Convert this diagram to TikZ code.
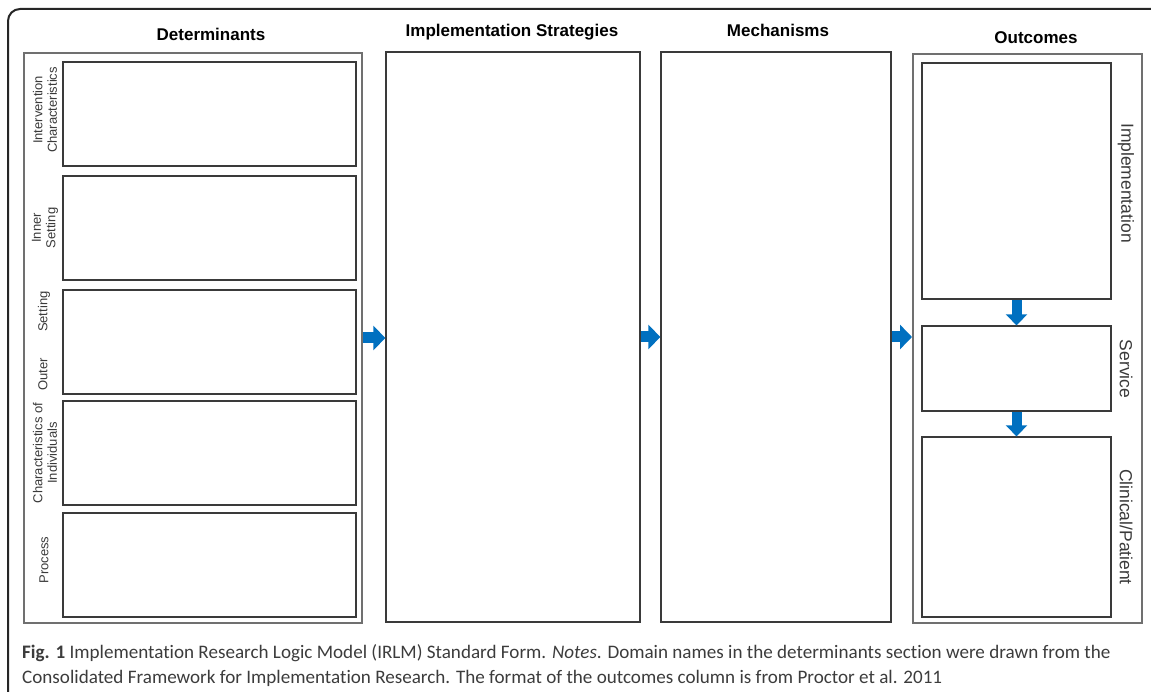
\documentclass[tikz,border=0pt]{standalone}
\usepackage{fontspec}
\setmainfont{Liberation Sans}
\newfontfamily\capfont[Ligatures={NoCommon}]{Carlito}
\usetikzlibrary{arrows.meta}
\definecolor{arrowblue}{HTML}{0070C0}
\definecolor{edgegray}{HTML}{707070}
\definecolor{edgedark}{HTML}{3A3A3A}
\definecolor{captext}{HTML}{3C3C3C}
\tikzset{
  outerbox/.style={draw=edgegray, line width=2pt, inner sep=0pt},
  innerbox/.style={draw=edgedark, line width=1.3pt, inner sep=0pt},
  coltitle/.style={font=\bfseries\fontsize{17}{20}\selectfont, text=black, anchor=base, inner sep=0pt},
  sidel/.style={rotate=90, align=center, font=\fontsize{13}{14.5}\selectfont, text=edgedark, inner sep=0pt},
  sider/.style={rotate=-90, font=\fontsize{17.5}{20}\selectfont, text=edgedark, inner sep=0pt},
  harrow/.style={draw=arrowblue, line width=11pt, -{Triangle[length=12pt,width=24pt]}},
  varrow/.style={draw=arrowblue, line width=10pt, -{Triangle[length=11pt,width=21pt]}},
  captionline/.style={font=\capfont\fontsize{19.1}{22}\selectfont, text=captext, inner sep=0pt, anchor=base west},
  frameline/.style={draw=black!85, line width=2pt, rounded corners=12pt},
}
\begin{document}
\begin{tikzpicture}[x=1pt, y=-1pt]
\useasboundingbox (0,0) rectangle (1151,692);
% outer frame
\draw[frameline] (1170,9) -- (8,9) -- (8,710);
% titles
\node[coltitle] (tdet) at (211,41) {Determinants};
\node[coltitle] (tstr) at (512,37) {Implementation Strategies};
\node[coltitle] (tmec) at (778,37) {Mechanisms};
\node[coltitle] (tout) at (1036,44) {Outcomes};
% determinants
\node[outerbox, minimum width=338pt, minimum height=570pt] (det) at (193,338) {};
\node[innerbox, minimum width=293pt, minimum height=104pt] (d1) at (209.5,114) {};
\node[innerbox, minimum width=293pt, minimum height=104pt] (d2) at (209.5,228) {};
\node[innerbox, minimum width=293pt, minimum height=104pt] (d3) at (209.5,342) {};
\node[innerbox, minimum width=293pt, minimum height=104pt] (d4) at (209.5,453) {};
\node[innerbox, minimum width=293pt, minimum height=104pt] (d5) at (209.5,565) {};
\node[sidel] (l1) at (45,110) {Intervention\\Characteristics};
\node[sidel] (l2) at (45,228) {Inner\\Setting};
\node[sidel] (l3) at (44,341) {Outer\hspace{26pt}Setting};
\node[sidel] (l4) at (45,453) {Characteristics of\\Individuals};
\node[sidel] (l5) at (44,560) {Process};
% strategies & mechanisms
\node[innerbox, minimum width=254pt, minimum height=570pt] (strat) at (513,337) {};
\node[innerbox, minimum width=230pt, minimum height=570pt] (mech) at (776,337) {};
% outcomes
\node[outerbox, minimum width=229pt, minimum height=569pt] (out) at (1027.5,338.5) {};
\node[innerbox, minimum width=189pt, minimum height=236pt] (o1) at (1016.5,181) {};
\node[innerbox, minimum width=189pt, minimum height=85pt] (o2) at (1016.5,368.5) {};
\node[innerbox, minimum width=189pt, minimum height=180pt] (o3) at (1016.5,527) {};
\node[sider] (r1) at (1126,183) {Implementation};
\node[sider] (r2) at (1126,369) {Service};
\node[sider] (r3) at (1126,527) {Clinical/Patient};
% arrows
\draw[harrow] (det.east) -- (det.east -| strat.west);
\draw[harrow] (strat.east) -- (strat.east -| mech.west);
\draw[harrow] (mech.east) -- (mech.east -| out.west);
\draw[varrow] (o1.south) -- (o2.north);
\draw[varrow] (o2.south) -- (o3.north);
% caption
\node[captionline] (cap1) at (22,658) {\textbf{Fig. 1} Implementation Research Logic Model (IRLM) Standard Form. \textit{Notes}. Domain names in the determinants section were drawn from the};
\node[captionline] (cap2) at (22,683) {Consolidated Framework for Implementation Research. The format of the outcomes column is from Proctor et al. 2011};
\end{tikzpicture}
\end{document}
